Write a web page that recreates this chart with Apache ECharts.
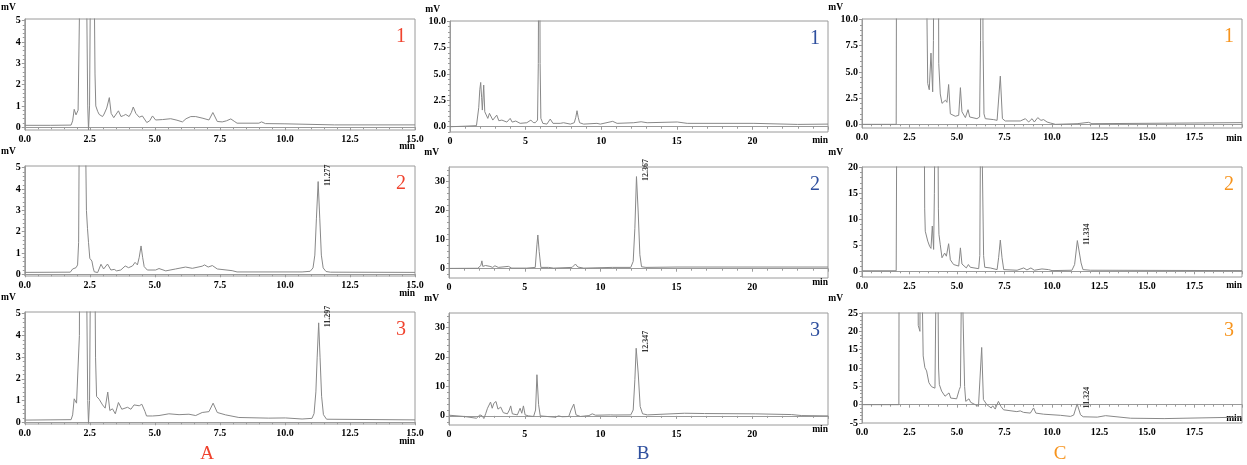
<!DOCTYPE html>
<html>
<head>
<meta charset="utf-8">
<script src="https://cdn.jsdelivr.net/npm/echarts@6/dist/echarts.min.js"></script>
<style>
  html, body { margin: 0; padding: 0; background: #fff; }
  #main { width: 1247px; height: 465px; }
</style>
</head>
<body>
<div id="main"></div>
<script>
/* chromatogram traces, [min, mV] */
const a1 = [[0,0.09],[1.0,0.09],[1.78,0.1],[1.84,0.3],[1.90,0.84],[1.97,0.58],[2.05,0.8],[2.07,0.8],[2.11,6],[2.15,30],[2.26,60],[2.35,30],[2.38,6],[2.42,1],[2.45,-0.13],[2.49,1],[2.53,8],[2.59,60],[2.66,8],[2.70,2.5],[2.73,1.0],[2.80,0.75],[2.86,0.6],[2.93,0.55],[2.99,0.5],[3.05,0.62],[3.15,0.9],[3.25,1.39],[3.32,0.65],[3.42,0.45],[3.48,0.42],[3.60,0.77],[3.70,0.5],[3.80,0.55],[3.88,0.6],[4.01,0.5],[4.10,0.7],[4.17,0.95],[4.27,0.65],[4.40,0.47],[4.52,0.53],[4.69,0.22],[4.80,0.3],[4.91,0.53],[5.03,0.34],[5.30,0.36],[5.61,0.4],[5.85,0.33],[6.06,0.25],[6.2,0.4],[6.38,0.5],[6.57,0.5],[6.85,0.42],[7.08,0.34],[7.23,0.69],[7.40,0.27],[7.59,0.25],[7.75,0.3],[7.92,0.39],[8.05,0.28],[8.16,0.19],[9.0,0.19],[9.1,0.25],[9.25,0.17],[10.0,0.16],[11.9,0.11],[15,0.11]]
const a2 = [[0,0.09],[1.75,0.1],[1.84,0.25],[1.97,0.31],[2.03,0.44],[2.07,1.5],[2.10,8],[2.2,40],[2.32,8],[2.37,3],[2.41,2.16],[2.45,1.5],[2.50,0.75],[2.58,0.62],[2.63,0.3],[2.67,0.12],[2.80,0.08],[2.93,0.47],[3.03,0.25],[3.18,0.48],[3.31,0.2],[3.44,0.23],[3.53,0.16],[3.69,0.2],[3.86,0.39],[3.99,0.31],[4.14,0.39],[4.24,0.56],[4.33,0.44],[4.40,0.8],[4.47,1.33],[4.53,0.8],[4.59,0.36],[4.71,0.2],[5.03,0.2],[5.16,0.27],[5.42,0.16],[5.80,0.25],[6.18,0.34],[6.22,0.42],[6.44,0.28],[6.82,0.38],[6.91,0.44],[7.05,0.34],[7.21,0.41],[7.40,0.25],[7.97,0.17],[8.16,0.11],[10.66,0.11],[10.97,0.14],[11.08,0.3],[11.15,0.9],[11.21,2.6],[11.277,4.35],[11.34,2.6],[11.40,0.9],[11.47,0.3],[11.58,0.13],[11.75,0.1],[15,0.09]]
const a3 = [[0,0.1],[1.78,0.12],[1.84,0.34],[1.90,1.08],[1.99,0.88],[2.06,0.96],[2.10,4],[2.15,30],[2.26,60],[2.35,30],[2.38,6],[2.42,1],[2.45,-0.05],[2.49,1],[2.53,8],[2.60,60],[2.68,10],[2.72,3],[2.76,1.19],[2.86,1.06],[2.99,0.8],[3.09,0.65],[3.19,1.39],[3.27,0.54],[3.33,0.5],[3.37,0.62],[3.48,0.39],[3.60,0.91],[3.73,0.6],[3.95,0.69],[4.08,0.6],[4.20,0.8],[4.40,0.76],[4.50,0.83],[4.56,0.8],[4.62,0.5],[4.68,0.29],[4.91,0.29],[5.16,0.31],[5.54,0.39],[5.93,0.35],[6.31,0.37],[6.57,0.31],[6.82,0.45],[7.08,0.49],[7.24,0.88],[7.40,0.45],[7.72,0.34],[8.23,0.22],[9.38,0.19],[10.02,0.2],[10.66,0.15],[11.04,0.18],[11.12,0.4],[11.19,1.4],[11.24,3.0],[11.297,4.58],[11.35,3.0],[11.41,1.2],[11.48,0.35],[11.6,0.14],[15,0.11]]

const b1 = [[0,0.0],[1.0,0.05],[1.75,0.1],[1.80,0.15],[1.90,1.8],[1.97,3.5],[2.03,4.2],[2.09,2.8],[2.14,1.58],[2.23,3.95],[2.30,1.42],[2.39,1.42],[2.50,0.79],[2.61,1.27],[2.72,1.2],[2.83,0.63],[3.09,1.1],[3.23,0.57],[3.43,0.63],[3.76,0.44],[3.98,0.79],[4.11,0.44],[4.35,0.54],[4.64,0.32],[5.08,0.38],[5.35,0.63],[5.50,0.4],[5.64,0.38],[5.79,0.63],[5.84,6],[5.90,30],[5.96,6],[6.01,0.8],[6.14,0.32],[6.41,0.25],[6.63,0.73],[6.81,0.32],[7.29,0.32],[7.51,0.38],[7.96,0.25],[8.22,0.38],[8.32,0.9],[8.40,1.52],[8.48,0.9],[8.57,0.38],[8.84,0.25],[9.72,0.32],[9.94,0.25],[10.76,0.51],[11.05,0.32],[12.15,0.38],[12.64,0.47],[13.04,0.38],[15.03,0.45],[15.69,0.32],[20.1,0.32],[22.98,0.22],[25,0.25]]
const b2 = [[0,0.1],[1.9,0.15],[1.99,0.8],[2.10,1.1],[2.17,2.7],[2.23,0.8],[2.41,1.1],[2.54,0.57],[2.70,0.8],[2.88,0.45],[3.03,1.0],[3.25,0.45],[3.92,0.8],[4.14,0.2],[5.13,0.2],[5.69,0.45],[5.80,8.2],[5.86,11.6],[5.95,5.9],[6.06,0.45],[6.57,0.45],[6.68,0.68],[6.90,0.2],[8.12,0.45],[8.34,1.6],[8.50,0.57],[8.89,0.2],[10.77,0.45],[11.99,0.45],[12.15,2.5],[12.26,13.9],[12.367,31.7],[12.48,19.5],[12.59,4.8],[12.70,0.68],[12.99,0.45],[15.04,0.57],[25,0.57]]
const b3 = [[0,0.23],[1.0,-0.2],[1.81,-0.8],[2.04,0.34],[2.19,0],[2.30,-0.9],[2.43,0.9],[2.54,2.6],[2.63,3.2],[2.74,4.7],[2.85,2.6],[2.96,4.3],[3.10,4.9],[3.23,2.3],[3.41,3.0],[3.58,1.1],[3.85,0.7],[3.98,2.0],[4.07,3.4],[4.18,0.7],[4.51,0.34],[4.69,2.6],[4.80,0.9],[4.91,3.4],[5.02,0.34],[5.24,0],[5.58,-0.2],[5.71,2.0],[5.80,14.0],[5.91,3.8],[6.02,0],[7.01,-0.45],[7.23,0],[7.46,-0.3],[7.90,-0.2],[8.05,2.0],[8.23,4.0],[8.38,0.34],[8.67,-0.2],[9.23,0.1],[9.45,0.7],[9.67,0.23],[10.66,0.34],[10.77,0.7],[10.88,0.3],[11.99,0.34],[12.15,2.0],[12.26,12.3],[12.347,23.0],[12.48,14.6],[12.61,3.2],[12.77,0.7],[13.1,0.34],[15.53,0.9],[16.86,0.8],[20.2,0.7],[22.6,0.45],[23.27,0.1],[25,0]]

const c1 = [[0,0],[1.80,0],[1.84,40],[3.38,40],[3.42,10],[3.46,3.9],[3.54,3.3],[3.63,6.8],[3.72,3.1],[3.76,8],[3.81,40],[3.98,40],[4.04,5.8],[4.12,2.9],[4.21,2.0],[4.39,2.3],[4.47,2.1],[4.56,3.8],[4.65,1.0],[4.91,0.77],[5.09,0.86],[5.18,3.5],[5.26,1.2],[5.44,0.64],[5.58,1.4],[5.67,0.7],[6.05,0.54],[6.19,0.7],[6.24,8],[6.30,40],[6.37,8],[6.42,1],[6.49,0.54],[6.93,0.45],[7.11,0.38],[7.18,0.54],[7.28,4.6],[7.39,0.54],[7.54,0.32],[8.33,0.32],[8.6,0.54],[8.77,0.22],[8.95,0.54],[9.07,0.22],[9.25,0.64],[9.42,0.38],[9.56,0.45],[9.74,0.22],[9.91,0.13],[10.18,0],[11.32,0.06],[11.93,0.19],[12.1,0.06],[20,0.16]]
const c2 = [[0,0.1],[1.80,0.1],[1.84,40],[3.26,40],[3.30,12],[3.33,7.7],[3.46,5.8],[3.56,4.8],[3.63,4.4],[3.70,8.7],[3.77,4.2],[3.81,15],[3.86,40],[3.98,40],[4.02,12],[4.05,7.1],[4.12,5.1],[4.21,2.6],[4.35,3.5],[4.44,2.9],[4.56,5.3],[4.65,2.2],[4.82,1.3],[5.09,1.0],[5.18,4.5],[5.26,1.4],[5.49,0.64],[5.60,1.3],[5.70,0.77],[6.14,0.5],[6.20,3],[6.26,40],[6.36,40],[6.40,3],[6.46,0.77],[6.75,0.64],[7.11,0.32],[7.19,2.6],[7.28,6.0],[7.37,2.6],[7.46,0.32],[8.16,0.2],[8.51,0.64],[8.68,0.26],[8.89,0.64],[9.07,0.2],[9.47,0.45],[9.82,0.32],[10.0,0.13],[11.05,0.2],[11.19,1.3],[11.334,5.9],[11.53,1.6],[11.63,0.32],[12.02,0.2],[20,0.13]]
const c3 = [[0,0],[1.94,0],[1.96,60],[2.94,60],[2.96,21.6],[3.05,20],[3.08,60],[3.16,60],[3.22,13.3],[3.31,10.1],[3.40,9.2],[3.45,8.7],[3.52,6.0],[3.66,4.9],[3.84,4.5],[3.89,30],[3.94,60],[4.0,30],[4.03,10],[4.07,5.5],[4.19,3.7],[4.37,2.3],[4.45,2.1],[4.58,3.2],[4.67,1.8],[4.98,1.6],[5.12,4.1],[5.18,4.9],[5.25,40],[5.33,40],[5.40,5],[5.46,0.9],[5.55,1.2],[5.63,1.6],[5.72,0.64],[6.13,-0.46],[6.21,0],[6.30,15.6],[6.39,1.4],[6.57,0],[6.80,-0.9],[6.88,-0.3],[7.01,-1.2],[7.18,0.9],[7.31,-0.46],[7.45,-1.4],[8.15,-1.9],[8.33,-1.7],[8.50,-2.1],[8.86,-2.3],[9.03,-0.9],[9.15,-2.3],[9.56,-2.6],[10.44,-2.9],[10.97,-3.2],[11.14,-2.85],[11.324,0.2],[11.5,-2.75],[11.64,-3.3],[12.38,-3.4],[12.82,-3.0],[12.9,-3.4],[14.14,-3.7],[15.9,-3.8],[20,-3.4]]

/* tick labels */
const yTicksA = [0, 1, 2, 3, 4, 5]
const yTicksB1 = [0, 2.5, 5, 7.5, 10]
const yTicksB23 = [0, 10, 20, 30]
const yTicksC1 = [0, 2.5, 5, 7.5, 10]
const yTicksC2 = [0, 5, 10, 15, 20]
const yTicksC3 = [-5, 0, 5, 10, 15, 20, 25]

/* annotated peaks */
const peakPanel = [1, 2, 4, 5, 7, 8]
const peakX = [11.277, 11.297, 12.367, 12.347, 11.334, 11.324]
const peakY = [4.35, 4.58, 31.7, 23.0, 5.9, 0.2]
const peakText = ['11.277', '11.297', '12.367', '12.347', '11.334', '11.324']

const panelNo = ['1', '2', '3', '1', '2', '3', '1', '2', '3']
const groupNames = ['A', 'B', 'C']

// layout (px) and look
const SERIF = '"Liberation Serif", "Times New Roman", serif'
const groupColor = ['#f0432e', '#2e4f9e', '#f7941d']
const panels = [
  { data: a1, rect: [22, 19, 393, 111], y: [-0.13, 5.08], yt: yTicksA, ym: 0.2, yd: 0, x: 15, xi: 2.5, xd: 1, lastX: true, mvPad: 9 },
  { data: a2, rect: [22, 166, 393, 110], y: [-0.08, 5.08], yt: yTicksA, ym: 0.2, yd: 0, x: 15, xi: 2.5, xd: 1, lastX: true, mvPad: 9 },
  { data: a3, rect: [22, 312, 393, 112], y: [-0.08, 5.08], yt: yTicksA, ym: 0.2, yd: 0, x: 15, xi: 2.5, xd: 1, lastX: true, mvPad: 9 },
  { data: b1, rect: [450, 21, 378, 111], y: [-0.5, 10.03], yt: yTicksB1, ym: 0.5, yd: 1, x: 25, xi: 5, xd: 0, lastX: false, mvPad: 10 },
  { data: b2, rect: [449, 167, 379, 111], y: [-3.2, 35], yt: yTicksB23, ym: 2, yd: 0, x: 25, xi: 5, xd: 0, lastX: false, mvPad: 10 },
  { data: b3, rect: [449, 313, 379, 112], y: [-3.1, 35], yt: yTicksB23, ym: 2, yd: 0, x: 25, xi: 5, xd: 0, lastX: false, mvPad: 10 },
  { data: c1, rect: [862, 19, 380, 109], y: [-0.35, 10.05], yt: yTicksC1, ym: 0.5, yd: 1, x: 20, xi: 2.5, xd: 1, lastX: false, mvPad: 19 },
  { data: c2, rect: [862, 167, 380, 110], y: [-1.1, 20.05], yt: yTicksC2, ym: 1, yd: 0, x: 20, xi: 2.5, xd: 1, lastX: false, mvPad: 19 },
  { data: c3, rect: [862, 313, 380, 110], y: [-5, 25], yt: yTicksC3, ym: 1, yd: 0, x: 20, xi: 2.5, xd: 1, lastX: false, mvPad: 19 }
]

const axisGray = '#9a9a9a'
const labelStyle = { fontFamily: SERIF, fontWeight: 'bold', fontSize: 10, color: '#000' }

const minorValues = (min, max, step) => {
  const out = []
  for (let v = Math.ceil(min / step) * step; v <= max + 1e-9; v += step) out.push(+v.toFixed(4))
  return out
}

const grid = panels.map(p => ({
  left: p.rect[0], top: p.rect[1], width: p.rect[2], height: p.rect[3],
  show: true, borderColor: axisGray, borderWidth: 1
}))

const xAxis = panels.map((p, i) => ({
  type: 'value', gridIndex: i, min: 0, max: p.x, interval: p.xi,
  name: 'min', nameLocation: 'end', nameGap: 0, nameMoveOverlap: false,
  nameTextStyle: { ...labelStyle, fontSize: 9.5, align: 'right', verticalAlign: 'top', padding: [i < 3 ? 14 : 9, 0, 0, 0] },
  axisLine: { show: true, lineStyle: { color: axisGray } },
  axisTick: { show: true, length: 3, lineStyle: { color: axisGray } },
  minorTick: { show: true, splitNumber: 5, length: 2, lineStyle: { color: axisGray } },
  splitLine: { show: false },
  axisLabel: { ...labelStyle, margin: 4, showMinLabel: true, showMaxLabel: p.lastX, formatter: v => v.toFixed(p.xd) }
}))

const yAxis = panels.map((p, i) => ({
  type: 'value', gridIndex: i, min: p.y[0], max: p.y[1],
  name: 'mV', nameLocation: 'end', nameGap: i % 3 === 0 ? 6 : 9, nameMoveOverlap: false,
  nameTextStyle: { ...labelStyle, fontSize: 9.5, align: 'right', padding: [0, p.mvPad, 0, 0] },
  axisLine: { show: true, lineStyle: { color: axisGray } },
  axisTick: { show: true, length: 3, customValues: p.yt, lineStyle: { color: axisGray } },
  splitLine: { show: false },
  axisLabel: { ...labelStyle, margin: 4, showMinLabel: true, showMaxLabel: true, customValues: p.yt, formatter: v => v.toFixed(p.yd) }
})).concat(panels.map((p, i) => ({
  type: 'value', gridIndex: i, min: p.y[0], max: p.y[1], position: 'left',
  axisLine: { show: false },
  axisLabel: { show: false },
  splitLine: { show: false },
  axisTick: { show: true, length: 2, customValues: minorValues(p.y[0], p.y[1], p.ym), lineStyle: { color: axisGray } }
})))

const series = panels.map((p, i) => ({
  type: 'line', xAxisIndex: i, yAxisIndex: i, data: p.data,
  showSymbol: false, symbol: 'none', clip: true,
  lineStyle: { color: '#888', width: 1 }
}))

peakPanel.forEach((pi, k) => {
  series.push({
    type: 'scatter', xAxisIndex: pi, yAxisIndex: pi,
    symbolSize: 1, itemStyle: { color: 'rgba(0,0,0,0)' },
    data: [{ value: [peakX[k], peakY[k]], name: peakText[k] }],
    label: {
      show: true, formatter: '{b}', position: [10, 5], rotate: 90,
      align: 'left', verticalAlign: 'middle',
      fontFamily: SERIF, fontWeight: 'bold', fontSize: 8, color: '#000'
    }
  })
})

const graphic = panels.map((p, i) => ({
  type: 'text',
  x: p.rect[0] + p.rect[2] - (i < 3 ? 14 : 13),
  y: p.rect[1] + 18,
  style: {
    text: panelNo[i], fill: groupColor[Math.floor(i / 3)],
    font: '20px ' + SERIF, textAlign: 'center', textVerticalAlign: 'middle'
  }
})).concat(groupNames.map((g, j) => ({
  type: 'text',
  x: [207, 643, 1060][j], y: 454,
  style: {
    text: g, fill: groupColor[j],
    font: '19px ' + SERIF, textAlign: 'center', textVerticalAlign: 'middle'
  }
})))

const chart = echarts.init(document.getElementById('main'))
chart.setOption({
  animation: false,
  backgroundColor: '#fff',
  grid,
  xAxis,
  yAxis,
  series,
  graphic
})
</script>
</body>
</html>
